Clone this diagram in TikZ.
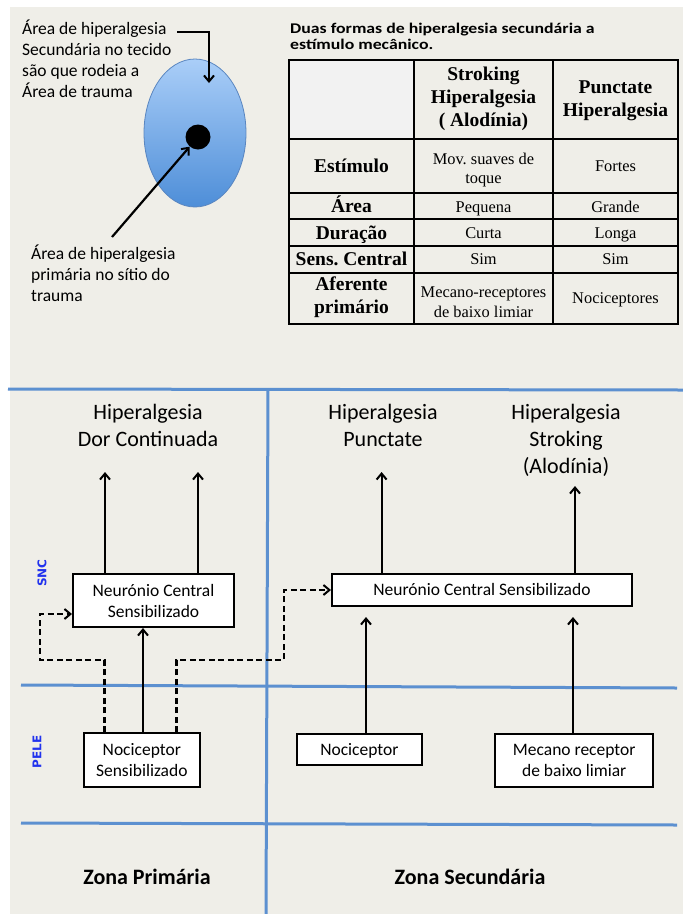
\documentclass[tikz,border=0pt]{standalone}
\usepackage{fontspec}
\setmainfont{Carlito}
\newfontfamily\tnr{Liberation Serif}
\newfontfamily\djv{DejaVu Sans}
\newfontfamily\wide[FakeStretch=1.2]{Carlito}
\usetikzlibrary{arrows.meta,shapes.geometric}
\definecolor{bgc}{HTML}{EFEEE8}
\definecolor{cellg}{HTML}{F2F2F2}
\definecolor{bline}{HTML}{5C90D0}
\definecolor{sncb}{HTML}{2233EE}
\definecolor{elltop}{HTML}{AACEF8}
\definecolor{ellbot}{HTML}{4E8ED8}
\definecolor{elledge}{HTML}{5A86C0}
\tikzset{
  arr/.style={line width=2.2, -{Straight Barb[length=6pt,width=10pt,line width=2pt]}},
  dsh/.style={line width=2.5, dash pattern=on 6pt off 3.5pt},
  bl/.style={draw=bline, line width=3},
  box/.style={draw=black, line width=2, fill=white, align=center, inner sep=0, font=\fontsize{17.5}{21}\selectfont},
  big/.style={align=center, inner sep=0, font=\fontsize{22}{27}\selectfont},
  side/.style={rotate=90, inner sep=0, text=sncb, font=\djv\bfseries\fontsize{12}{14}\selectfont},
  hd/.style={align=center, inner sep=0, font=\tnr\bfseries\fontsize{19.5}{23}\selectfont},
  cl/.style={align=center, inner sep=0, font=\tnr\fontsize{16.4}{19.5}\selectfont},
  onehd/.style={text height=17.5pt, text depth=4.7pt},
  onecl/.style={text height=14.8pt, text depth=3.9pt},
  onebox/.style={text height=15.8pt, text depth=4.2pt},
  grid/.style={draw=black, line width=1.6},
  note/.style={anchor=north west, align=left, inner sep=0, font=\fontsize{17.5}{21}\selectfont}
}
\begin{document}
\frenchspacing
\begin{tikzpicture}[x=1pt,y=-1pt]
\useasboundingbox (0,0) rectangle (683,914);
\fill[white] (0,0) rectangle (683,914);
\fill[bgc] (10,7) rectangle (683,914);

% ---- top-left sketch
\node[ellipse, minimum width=102, minimum height=148, inner sep=0, draw=elledge, line width=0.8, top color=elltop, bottom color=ellbot] (ell) at (195,133) {};
\node[circle, fill=black, minimum size=25, inner sep=0] (dot) at (198,137) {};
\node[note] (tl) at (22,20) {Área de hiperalgesia\\Secundária no tecido\\são que rodeia a\\Área de trauma};
\node[note] (bl) at (31,245) {Área de hiperalgesia\\primária no sítio do\\trauma};
\coordinate (a1s) at (177,32);
\coordinate (a1e) at (209,83);
\coordinate (a2s) at (112,237);
\draw[arr] (a1s) -| (a1e);
\draw[arr] (a2s) -- (dot);

% ---- table
\node[anchor=north west, align=left, inner sep=0, font=\wide\bfseries\fontsize{14.8}{16}\selectfont] (ttl) at (290,23) {Duas formas de hiperalgesia secundária a\\estímulo mecânico.};
\fill[cellg] (289,60) rectangle (414,139);
\draw[grid] (289,139) -- (678,139);
\draw[grid] (289,193) -- (678,193);
\draw[grid] (289,219) -- (678,219);
\draw[grid] (289,246) -- (678,246);
\draw[grid] (289,273) -- (678,273);
\draw[grid] (414,60) -- (414,324);
\draw[grid] (553,60) -- (553,324);
\draw[draw=black, line width=2.2] (289,60) rectangle (678,324);
\node[hd] (h21) at (483.5,99) {Stroking\\Hiperalgesia\\( Alodínia)};
\node[hd] (h31) at (615.5,101) {Punctate\\Hiperalgesia};
\node[hd, onehd] (r1) at (351.5,166) {Estímulo};
\node[hd, onehd] (r2) at (351.5,206) {Área};
\node[hd, onehd] (r3) at (351.5,233) {Duração};
\node[hd, onehd] (r4) at (351.5,259.5) {Sens. Central};
\node[hd] (r5) at (351.5,297) {Aferente\\primário};
\node[cl] (c21) at (483.5,170) {Mov. suaves de\\toque};
\node[cl, onecl] (c22) at (483.5,207) {Pequena};
\node[cl, onecl] (c23) at (483.5,233.5) {Curta};
\node[cl, onecl] (c24) at (483.5,259.5) {Sim};
\node[cl] (c25) at (483.5,302) {Mecano-receptores\\de baixo limiar};
\node[cl, onecl] (c31) at (615.5,166) {Fortes};
\node[cl, onecl] (c32) at (615.5,207) {Grande};
\node[cl, onecl] (c33) at (615.5,233.5) {Longa};
\node[cl, onecl] (c34) at (615.5,259.5) {Sim};
\node[cl, onecl] (c35) at (615.5,298) {Nociceptores};

% ---- lower diagram: zone lines
\draw[bl] (8,389) -- (683,390);
\draw[bl] (21,685) -- (677,688);
\draw[bl] (21,823) -- (677,825);
\draw[bl] (268,390) -- (266,914);

\node[big] (hdc) at (148,425.5) {Hiperalgesia\\Dor Continuada};
\node[big] (hpu) at (383,425.5) {Hiperalgesia\\Punctate};
\node[big] (hst) at (566,440) {Hiperalgesia\\Stroking\\(Alodínia)};

\node[side] (snc) at (42,573) {SNC};
\node[side] (pele) at (37,752) {PELE};

\node[box, minimum width=161, minimum height=53] (lbox) at (153.5,600.5) {Neurónio Central\\Sensibilizado};
\node[box, onebox, minimum width=300, minimum height=32] (rbox) at (482,590) {Neurónio Central Sensibilizado};
\node[box, minimum width=115.5, minimum height=54] (nsbox) at (141.8,760) {Nociceptor\\Sensibilizado};
\node[box, onebox, minimum width=124.7, minimum height=31] (nbox) at (359.4,749.5) {Nociceptor};
\node[box, minimum width=158.4, minimum height=53] (mbox) at (574.2,760.5) {Mecano receptor\\de baixo limiar};

\node[big, font=\bfseries\fontsize{22}{27}\selectfont] (zp) at (147,877) {Zona Primária};
\node[big, font=\bfseries\fontsize{22}{27}\selectfont] (zs) at (470,877) {Zona Secundária};

% free arrow ends
\coordinate (u1) at (105,472);
\coordinate (u2) at (198,472);
\coordinate (u3) at (381.6,472);
\coordinate (u4) at (575,486);
\coordinate (t1) at (366,617);
\coordinate (t2) at (573,617);

\draw[arr] (u1 |- lbox.north) -- (u1);
\draw[arr] (u2 |- lbox.north) -- (u2);
\draw[arr] (u3 |- rbox.north) -- (u3);
\draw[arr] (u4 |- rbox.north) -- (u4);
\draw[arr] (t1 |- nbox.north) -- (t1);
\draw[arr] (t2 |- mbox.north) -- (t2);
\draw[arr] (nsbox.north -| 143,0) -- (lbox.south -| 143,0);
\draw[arr, dsh] (nsbox.north -| 104.5,0) -- (104.5,660) -- (40,660) -- (40,614) -- (lbox.west |- 40,614);
\draw[arr, dsh] (nsbox.north -| 176.4,0) -- (176.4,660) -- (284,660) -- (284,590) -- (rbox.west);
\end{tikzpicture}
\end{document}
